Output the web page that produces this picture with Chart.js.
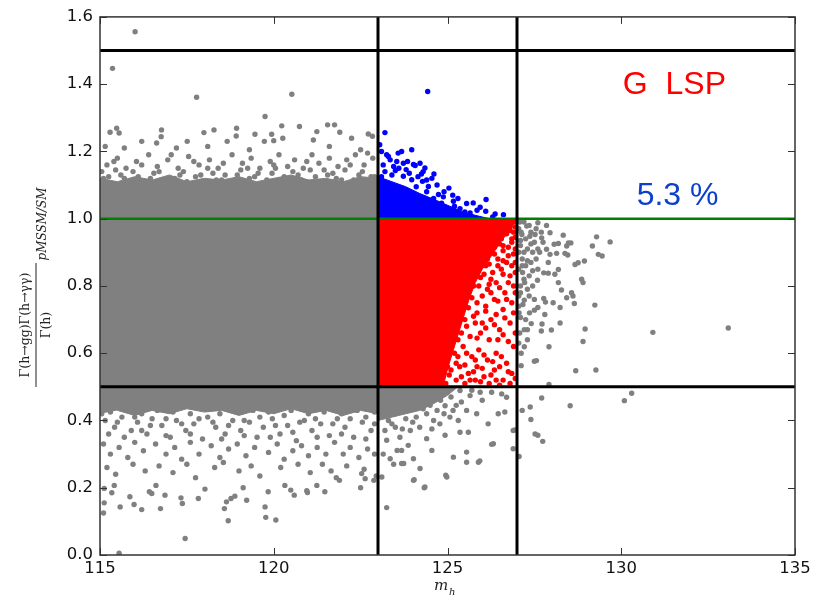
<!DOCTYPE html>
<html>
<head>
<meta charset="utf-8">
<script src="https://cdn.jsdelivr.net/npm/chart.js@4.4.1/dist/chart.umd.min.js"></script>
<style>
  html, body { margin: 0; padding: 0; background: #fff; }
  #wrap { width: 827px; height: 598px; }
</style>
</head>
<body>
<div id="wrap"><canvas id="chart" width="827" height="598"></canvas></div>
<script>
// --- axes ---
const xTicks = [115, 120, 125, 130, 135];
const yTicks = [0.0, 0.2, 0.4, 0.6, 0.8, 1.0, 1.2, 1.4, 1.6];

// --- cut lines ---
const blackHLines = [0.5, 1.5];
const greenHLine = 1.0;
const blackVLines = [123, 127];

// --- labels ---
const labelTexts = ['G  LSP', '5.3 %'];
const labelPos = [[131.53, 1.372], [131.62, 1.04]];

// --- dense regions (outline of the solid blobs) ---
const greyBody = [[115,0.42],[115,1.12],[115.5,1.11],[116.0,1.125],[116.5,1.115],[117.0,1.13],[117.5,1.11],[118.0,1.12],
  [118.5,1.115],[119.0,1.125],[119.5,1.11],[120.0,1.12],[120.5,1.13],[121.0,1.115],[121.5,1.12],[122.0,1.11],[122.5,1.125],
  [123,1.12],[123,0.42],[122.5,0.43],[122.0,0.415],[121.5,0.43],[121.0,0.42],[120.5,0.435],[120.0,0.42],[119.5,0.43],
  [119.0,0.415],[118.5,0.43],[118.0,0.425],[117.5,0.435],[117.0,0.42],[116.5,0.43],[116.0,0.415],[115.5,0.43]];
const greyLow = [[123,0.5],[125.3,0.5],[125.0,0.475],[124.6,0.45],[124.2,0.43],[123.6,0.415],[123,0.40]];
const blueBody = [[123,1.0],[123,1.125],[123.4,1.11],[123.8,1.095],[124.2,1.075],[124.6,1.058],[125.0,1.04],[125.4,1.022],
  [125.8,1.01],[126.2,1.0]];
const redBody = [[123,0.5],[123,1.0],[126.95,1.0],[126.85,0.97],[126.55,0.935],[126.3,0.895],[126.0,0.85],[125.8,0.81],
  [125.62,0.76],[125.47,0.71],[125.32,0.66],[125.17,0.61],[125.02,0.56],[124.87,0.5]];

// --- scattered points ---
const greyTop = [[116.01,1.556],[115.36,1.447],[117.78,1.361],[120.52,1.37],[119.75,1.304],
  [115.29,1.257],[115.48,1.269],[115.55,1.255],[116.2,1.23],[116.77,1.264],[116.76,1.244],[116.63,1.225],[117.51,1.23],
  [117.99,1.256],[118.28,1.264],[118.93,1.269],[118.92,1.246],[119.46,1.251],[119.94,1.251],[120.23,1.276],[120.74,1.274],
  [121.24,1.259],[121.55,1.279],[121.75,1.279],[121.9,1.257],[122.24,1.239],[122.72,1.252],[122.84,1.245],[118.66,1.23],
  [119.73,1.23],[120.0,1.232],[121.14,1.234],[120.26,1.239],[115.15,1.215],[115.7,1.21],[117.2,1.21],[118.1,1.215],
  [119.3,1.205],[121.6,1.215],[122.5,1.205],
  [115.2,1.16],[115.5,1.18],[115.75,1.15],[116.05,1.17],[116.4,1.19],[116.65,1.155],[116.95,1.175],[117.25,1.15],
  [117.55,1.185],[117.85,1.16],[118.15,1.175],[118.4,1.15],[118.8,1.19],[119.1,1.165],[119.35,1.18],[119.6,1.15],
  [119.9,1.17],[120.15,1.19],[120.4,1.155],[120.6,1.175],[120.85,1.15],[121.1,1.19],[121.3,1.165],[121.6,1.18],
  [121.85,1.155],[122.1,1.175],[122.35,1.19],[122.6,1.16],[122.85,1.18],
  [115.1,1.12],[115.35,1.105],[115.6,1.13],[115.85,1.11],[116.1,1.125],[116.3,1.10],[116.55,1.135],[116.8,1.115],
  [117.05,1.10],[117.3,1.13],[117.5,1.11],[117.75,1.125],[118.0,1.105],[118.25,1.135],[118.5,1.115],[118.7,1.10],
  [118.95,1.13],[119.2,1.11],[119.45,1.125],[119.7,1.105],[119.95,1.135],[120.2,1.115],[120.45,1.10],[120.7,1.13],
  [120.95,1.11],[121.2,1.125],[121.45,1.105],[121.7,1.135],[121.95,1.115],[122.2,1.10],[122.45,1.13],[122.7,1.11],
  [122.9,1.125],
  [115.05,1.14],[115.25,1.125],[115.45,1.145],[115.7,1.12],[115.95,1.14],[116.2,1.11],[116.45,1.12],[116.7,1.14],
  [116.9,1.105],[117.15,1.12],[117.4,1.14],[117.65,1.105],[117.9,1.13],[118.1,1.15],[118.35,1.115],[118.6,1.13],
  [118.85,1.11],[119.05,1.145],[119.3,1.12],[119.55,1.135],[119.8,1.115],[120.05,1.15],[120.3,1.125],[120.55,1.14],
  [120.8,1.115],[121.05,1.145],[121.3,1.11],[121.55,1.13],[121.8,1.12],[122.05,1.145],[122.3,1.115],[122.55,1.14],
  [122.8,1.125],[122.95,1.105],
  [115.4,1.17],[116.2,1.16],[117.05,1.19],[117.7,1.17],[118.55,1.165],[119.25,1.15],[120.0,1.16],[120.95,1.17],
  [121.45,1.145],[122.2,1.16],[122.7,1.195]];

const greyBottom = [[115.15,0.40],[115.42,0.38],[115.63,0.41],[115.9,0.37],[116.08,0.395],[116.35,0.36],[116.5,0.405],
  [116.78,0.385],[117.02,0.35],[117.2,0.40],[117.47,0.37],[117.7,0.39],[117.95,0.345],[118.1,0.41],[118.33,0.38],
  [118.6,0.36],[118.82,0.40],[119.05,0.37],[119.3,0.395],[119.52,0.35],[119.7,0.38],[119.96,0.405],[120.18,0.36],
  [120.4,0.385],[120.65,0.34],[120.88,0.40],[121.1,0.37],[121.35,0.39],[121.6,0.355],[121.83,0.405],[122.05,0.38],
  [122.3,0.35],[122.55,0.395],[122.8,0.37],
  [115.05,0.42],[115.3,0.425],[115.5,0.395],[115.75,0.43],[116.0,0.41],[116.2,0.42],[116.45,0.385],[116.65,0.43],
  [116.9,0.405],[117.1,0.425],[117.35,0.39],[117.6,0.42],[117.85,0.405],[118.05,0.435],[118.25,0.395],[118.45,0.42],
  [118.7,0.385],[118.95,0.425],[119.15,0.4],[119.4,0.43],[119.6,0.41],[119.85,0.425],[120.05,0.385],[120.3,0.415],
  [120.5,0.43],[120.75,0.395],[121.0,0.42],[121.2,0.405],[121.45,0.425],[121.7,0.39],[121.95,0.42],[122.2,0.405],
  [122.4,0.43],[122.65,0.41],[122.9,0.425],
  [115.25,0.36],[115.7,0.35],[116.2,0.37],[116.9,0.355],[117.6,0.36],[118.5,0.345],[119.15,0.355],[119.9,0.35],
  [120.55,0.365],[121.25,0.35],[121.95,0.36],[122.65,0.345],[122.9,0.39],
  [115.1,0.33],[115.3,0.30],[115.55,0.32],[115.8,0.29],[116.0,0.335],[116.25,0.31],[116.6,0.33],[116.9,0.30],
  [117.15,0.32],[117.35,0.285],[117.6,0.335],[117.85,0.30],[118.2,0.325],[118.45,0.29],[118.7,0.315],[118.95,0.33],
  [119.2,0.295],[119.45,0.32],[119.85,0.305],[120.1,0.33],[120.3,0.285],[120.55,0.31],[120.8,0.325],[121.0,0.295],
  [121.25,0.32],[121.5,0.30],[121.75,0.335],[122.0,0.30],[122.2,0.32],[122.45,0.29],[122.7,0.315],[122.9,0.30],
  [115.2,0.26],[115.45,0.24],[115.95,0.27],[116.3,0.25],[116.7,0.265],[117.1,0.245],[117.5,0.27],[117.75,0.23],
  [118.3,0.26],[118.55,0.275],[119.0,0.25],[119.35,0.265],[119.6,0.235],[120.2,0.26],[120.7,0.27],[121.05,0.245],
  [121.4,0.27],[121.65,0.25],[122.1,0.265],[122.6,0.255],[122.95,0.235],
  [117.45,0.049],[115.58,0.143],[115.1,0.125],[115.12,0.155],[115.98,0.15],[116.2,0.135],[115.86,0.173],[116.74,0.138],
  [116.87,0.178],[117.33,0.17],[117.37,0.153],[117.83,0.168],[118.02,0.196],[118.58,0.138],[118.64,0.158],[118.69,0.102],
  [118.77,0.168],[118.88,0.175],[119.12,0.2],[119.22,0.163],[119.75,0.143],[119.77,0.112],[119.84,0.188],[120.06,0.104],
  [120.32,0.207],[120.49,0.193],[120.59,0.178],[120.95,0.191],[120.97,0.186],[121.24,0.207],[121.47,0.188],[122.5,0.2],
  [122.53,0.242],[122.63,0.227],[122.88,0.222],[121.89,0.222],[121.8,0.23],[115.12,0.198],[115.34,0.185],[115.41,0.207],
  [116.42,0.188],[116.49,0.183],[116.61,0.207],[115.55,0.005]];

const greyMid = [[125.36,0.489],[125.65,0.474],[125.94,0.484],[126.27,0.484],[126.56,0.479],[126.7,0.469],[126.46,0.42],
  [126.65,0.425],[126.17,0.39],[125.6,0.365],[125.36,0.365],[125.31,0.4],[125.84,0.42],[125.55,0.43],[125.16,0.43],
  [124.93,0.444],[125.07,0.41],[124.78,0.39],[124.55,0.375],[124.93,0.356],[126.32,0.331],[126.89,0.37],[126.89,0.316],
  [125.55,0.306],[125.89,0.276],[125.17,0.291],[124.98,0.232],[124.21,0.257],[124.02,0.222],[124.35,0.202],[124.55,0.311],
  [124.02,0.286],[123.68,0.311],[123.55,0.311],[123.35,0.286],[123.45,0.27],[123.74,0.272],[123.87,0.326],[124.4,0.346],
  [123.63,0.35],[123.25,0.341],[123.2,0.37],[123.5,0.38],[123.93,0.37],[124.2,0.38],[124.6,0.4],[124.7,0.43],
  [123.11,0.232],[123.68,0.272],[124.04,0.224],[124.33,0.2],[124.95,0.237],[125.55,0.276],[125.93,0.28],[126.27,0.329],
  [127.06,0.293],[126.94,0.372],[123.25,0.141],[123.3,0.40],[123.8,0.405],[124.1,0.41],[124.4,0.42],[123.15,0.30],
  [123.2,0.44],[123.5,0.42],[123.9,0.43],[124.3,0.435],[124.8,0.46],[125.1,0.47],[125.4,0.455],[125.7,0.49],[126.0,0.46],
  [124.5,0.445],[123.4,0.39],[124.0,0.395],[124.9,0.42],[125.25,0.445],[123.7,0.375]];

const greyRight = [[127.28,0.978],[127.6,0.988],[127.14,0.953],[127.37,0.948],[127.52,0.953],[127.71,0.943],[127.95,0.958],
  [128.33,0.951],[129.29,0.946],[129.68,0.931],[129.17,0.919],[129.34,0.894],[129.45,0.889],[128.48,0.928],[128.55,0.928],
  [128.07,0.924],[128.19,0.926],[128.43,0.919],[128.38,0.897],[128.14,0.897],[128.46,0.892],[127.85,0.909],[127.95,0.894],
  [128.76,0.869],[128.94,0.874],[128.67,0.864],[128.19,0.849],[128.09,0.835],[127.9,0.838],[127.77,0.839],[128.86,0.82],
  [128.9,0.81],[128.19,0.81],[127.59,0.817],[127.35,0.83],[127.16,0.84],[127.22,0.81],[128.28,0.788],[128.43,0.765],
  [128.57,0.78],[128.61,0.77],[128.24,0.736],[128.65,0.748],[129.24,0.743],[128.04,0.75],[127.82,0.752],[127.77,0.763],
  [127.5,0.76],[127.6,0.736],[127.5,0.728],[127.21,0.758],[127.17,0.745],[127.05,0.77],[127.36,0.72],[127.1,0.706],
  [127.41,0.688],[127.72,0.687],[127.8,0.715],[128.24,0.69],[127.99,0.669],[127.7,0.666],[127.21,0.67],[127.3,0.67],
  [128.96,0.672],[128.9,0.635],[127.92,0.619],[127.21,0.619],[127.56,0.578],[127.5,0.576],[127.12,0.563],[128.69,0.548],
  [129.27,0.55],[127.92,0.507],[127.71,0.467],[128.53,0.444],[130.09,0.459],[130.3,0.481],[127.38,0.44],[127.15,0.43],
  [127.4,0.403],[127.52,0.36],[127.6,0.356],[127.74,0.338],[130.91,0.662],[133.08,0.675],
  [127.05,0.97],[127.1,0.92],[127.2,0.9],[127.3,0.91],[127.45,0.9],[127.15,0.88],[127.25,0.86],[127.4,0.87],[127.55,0.88],
  [127.05,0.85],[127.6,0.85],[127.1,0.8],[127.3,0.79],[127.45,0.8],[127.05,0.74],[127.08,0.66],[127.12,0.6],[127.4,0.96],
  [127.65,0.9],[127.75,0.93],[127.5,0.93],[127.2,0.99],[127.35,0.98],[127.12,0.96],
  [127.08,0.99],[127.25,0.94],[127.4,0.925],[127.1,0.935],[127.55,0.97],[127.3,0.875],[127.05,0.9],[127.15,0.86],
  [127.45,0.845],[127.2,0.82],[127.35,0.77],[127.1,0.78],[127.06,0.72],[127.25,0.7],[127.05,0.63],[127.3,0.64],
  [127.7,0.96],[127.85,0.98],[127.6,0.91],[127.9,0.87]];

const redScatter = [[126.3,0.98],[126.5,0.97],[126.7,0.99],[126.9,0.96],[126.4,0.94],[126.6,0.92],[126.85,0.93],[126.2,0.9],
  [126.45,0.88],[126.75,0.89],[126.95,0.87],[126.1,0.86],[126.3,0.84],[126.55,0.85],[126.8,0.83],
  [126.9,0.99],[126.95,0.975],[126.7,0.955],[126.85,0.94],[126.95,0.91],[126.6,0.905],[126.35,0.915],[126.15,0.88],
  [126.7,0.87],[126.25,0.82],[126.05,0.835],[125.8,0.845],
  [125.7,0.83],[125.9,0.8],[126.15,0.79],[126.4,0.81],[126.65,0.78],[126.9,0.8],[125.6,0.77],[125.85,0.75],[126.1,0.74],
  [126.35,0.76],[126.6,0.73],[126.85,0.75],
  [125.3,0.73],[125.5,0.7],[125.75,0.71],[126.0,0.69],[126.25,0.7],[126.5,0.67],[126.8,0.69],[125.4,0.66],[125.65,0.65],
  [125.95,0.66],[126.2,0.64],[126.95,0.66],
  [125.0,0.63],[125.2,0.6],[125.45,0.62],[125.7,0.59],[125.9,0.61],[126.15,0.58],[126.4,0.6],[126.7,0.57],[126.9,0.62],
  [124.9,0.57],[125.1,0.55],[125.35,0.56],[125.6,0.54],[125.85,0.56],[126.05,0.53],[126.35,0.55],[126.6,0.52],[126.85,0.54],
  [124.7,0.53],[124.95,0.51],[125.25,0.52],[125.5,0.51],[125.8,0.52],[126.2,0.51],[126.5,0.505],[126.8,0.51],
  [126.55,0.995],[126.25,0.985],[126.65,0.975],[126.8,0.965],[126.4,0.96],[126.15,0.955],[126.95,0.945],[126.55,0.94],
  [126.0,0.92],[126.25,0.93],[126.5,0.925],[126.75,0.915],[126.9,0.895],[126.35,0.895],[126.05,0.9],[125.95,0.87],
  [126.6,0.875],[126.85,0.86],[126.45,0.86],[126.2,0.865],[125.9,0.855],
  [125.6,0.82],[125.75,0.8],[125.95,0.825],[126.2,0.805],[126.5,0.795],[126.75,0.81],[126.95,0.78],[125.5,0.79],
  [125.7,0.765],[126.0,0.77],[126.25,0.78],[126.45,0.755],[126.7,0.76],[125.45,0.755],[126.95,0.84],[126.6,0.835],
  [125.2,0.745],[125.4,0.72],[125.6,0.735],[125.85,0.72],[126.1,0.725],[126.4,0.715],[126.65,0.705],[126.9,0.72],
  [125.25,0.69],[125.55,0.68],[125.8,0.69],[126.1,0.675],[126.35,0.685],[126.6,0.655],[125.15,0.66],[125.3,0.64],
  [125.85,0.645],[126.45,0.64],[126.75,0.635],
  [124.95,0.605],[125.1,0.62],[125.3,0.59],[125.55,0.6],[125.8,0.58],[126.05,0.595],[126.3,0.575],[126.55,0.59],
  [124.85,0.58],[125.0,0.56],[125.25,0.57],[125.5,0.565],[125.75,0.545],[126.0,0.555],[126.25,0.535],[126.5,0.56],
  [126.75,0.545],[124.65,0.555],[124.8,0.525],[125.05,0.535],[125.4,0.53],[125.65,0.52],[125.95,0.515],[126.4,0.52],
  [126.95,0.525]];

const blueScatter = [[124.43,1.378],[123.2,1.256],[123.97,1.205],[123.68,1.2],[123.58,1.195],[123.25,1.19],[123.3,1.185],
  [123.54,1.17],[123.73,1.165],[124.02,1.161],[124.21,1.165],[124.07,1.158],[123.81,1.146],[124.35,1.151],[124.25,1.133],
  [124.61,1.133],[123.5,1.143],[123.73,1.126],[123.97,1.116],[124.28,1.111],[124.45,1.096],[125.04,1.091],[124.74,1.072],
  [124.88,1.065],[124.6,1.06],[125.17,1.052],[125.2,1.037],[125.36,1.03],[125.74,1.047],[125.94,1.034],[126.11,1.057],
  [126.1,1.022],[126.37,1.014],[126.61,1.012],[125.65,1.017],[124.98,1.032],[125.5,1.02],[125.1,1.02],[124.83,1.046],
  [123.15,1.16],[123.4,1.13],[123.1,1.125],[124.1,1.095],[124.4,1.08],
  [123.1,1.2],[123.35,1.175],[123.6,1.15],[123.9,1.135],[124.15,1.125],[124.4,1.115],[124.7,1.1],[124.9,1.08],
  [125.3,1.06],[125.55,1.045],[125.85,1.025],[126.3,1.005],[123.2,1.14],[123.45,1.155],[123.85,1.17],[124.55,1.12],
  [125.15,1.07],[123.05,1.22],[124.3,1.14]];

const GREY = '#808080', RED = '#ff0000', BLUE = '#0000ff';
const xy = a => a.map(p => ({ x: p[0], y: p[1] }));

function polygon(pts, color) {
  return { type: 'line', data: xy(pts), showLine: true, fill: 'shape', backgroundColor: color,
           borderColor: color, borderWidth: 1, pointRadius: 0, tension: 0, order: 3 };
}
function dots(pts, color) {
  return { data: xy(pts), backgroundColor: color, borderWidth: 0, pointRadius: 2.7, order: 2 };
}
function segment(p1, p2, color, w) {
  return { type: 'line', data: xy([p1, p2]), showLine: true, borderColor: color, borderWidth: w,
           pointRadius: 0, fill: false, order: 1 };
}

const datasets = [];
blackVLines.forEach(v => datasets.push(segment([v, 0], [v, 1.6], '#000', 3)));
blackHLines.forEach(v => datasets.push(segment([115, v], [135, v], '#000', 3)));
datasets.push(segment([115, greenHLine], [135, greenHLine], '#008000', 2.6));
datasets.push(dots(blueScatter, BLUE), dots(redScatter, RED));
datasets.push(dots(greyTop, GREY), dots(greyBottom, GREY), dots(greyMid, GREY), dots(greyRight, GREY));
datasets.push(polygon(blueBody, BLUE), polygon(redBody, RED), polygon(greyBody, GREY), polygon(greyLow, GREY));

// frame, inward ticks, axis titles and the two annotations
const decor = {
  id: 'decor',
  afterDraw(chart) {
    const { ctx, chartArea: a, scales: { x, y } } = chart;
    ctx.save();
    // annotations
    ctx.textAlign = 'center';
    ctx.textBaseline = 'alphabetic';
    ctx.font = '32px "Liberation Sans", Arial, sans-serif';
    ctx.fillStyle = '#ff0000';
    ctx.fillText(labelTexts[0], x.getPixelForValue(labelPos[0][0]), y.getPixelForValue(labelPos[0][1]));
    ctx.fillStyle = '#0b3fcc';
    ctx.fillText(labelTexts[1], x.getPixelForValue(labelPos[1][0]), y.getPixelForValue(labelPos[1][1]));

    // frame
    ctx.strokeStyle = '#333';
    ctx.lineWidth = 1.5;
    ctx.strokeRect(a.left, a.top, a.right - a.left, a.bottom - a.top);
    // ticks pointing inward on all four sides
    ctx.lineWidth = 1;
    ctx.beginPath();
    xTicks.forEach(v => {
      const px = Math.round(x.getPixelForValue(v)) + 0.5;
      ctx.moveTo(px, a.bottom); ctx.lineTo(px, a.bottom - 7);
      ctx.moveTo(px, a.top); ctx.lineTo(px, a.top + 7);
    });
    yTicks.forEach(v => {
      const py = Math.round(y.getPixelForValue(v)) + 0.5;
      ctx.moveTo(a.left, py); ctx.lineTo(a.left + 7, py);
      ctx.moveTo(a.right, py); ctx.lineTo(a.right - 7, py);
    });
    ctx.stroke();

    // x title: m_h
    ctx.fillStyle = '#222';
    ctx.textAlign = 'left';
    ctx.font = 'italic 15px "DejaVu Serif", serif';
    ctx.fillText('m', 434, 590);
    ctx.font = 'italic 10px "DejaVu Serif", serif';
    ctx.fillText('h', 449, 595);

    // y title: fraction, rotated
    ctx.translate(36, 325);
    ctx.rotate(-Math.PI / 2);
    ctx.textAlign = 'center';
    ctx.textBaseline = 'middle';
    ctx.font = '12.5px "DejaVu Serif", serif';
    ctx.fillText('Γ(h→gg)Γ(h→γγ)', 0, -10);
    ctx.fillText('Γ(h)', 0, 11);
    ctx.fillRect(-62, -0.5, 124, 1);
    ctx.font = 'italic 12px "DejaVu Serif", serif';
    ctx.fillText('pMSSM/SM', 101, 7);
    ctx.restore();
  }
};

new Chart(document.getElementById('chart'), {
  type: 'scatter',
  data: { datasets },
  options: {
    responsive: false,
    animation: false,
    devicePixelRatio: 1,
    layout: { padding: { top: 16, right: 32, left: 0, bottom: 0 } },
    plugins: { legend: { display: false }, tooltip: { enabled: false } },
    scales: {
      x: {
        type: 'linear', min: 115, max: 135,
        afterBuildTicks: s => { s.ticks = xTicks.map(v => ({ value: v })); },
        afterFit: s => { s.height = 43; },
        grid: { display: false, drawTicks: false },
        border: { display: false },
        ticks: { color: '#111', padding: 4, font: { family: 'DejaVu Sans', size: 16.5 }, maxRotation: 0 }
      },
      y: {
        type: 'linear', min: 0, max: 1.6,
        afterBuildTicks: s => { s.ticks = yTicks.map(v => ({ value: v })); },
        afterFit: s => { s.width = 100; },
        grid: { display: false, drawTicks: false },
        border: { display: false },
        ticks: { color: '#111', padding: 7, font: { family: 'DejaVu Sans', size: 16.5 },
                 callback: v => Number(v).toFixed(1) }
      }
    }
  },
  plugins: [decor]
});
</script>
</body>
</html>
